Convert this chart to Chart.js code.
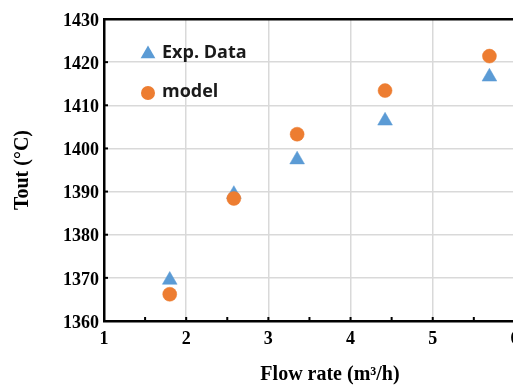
<!DOCTYPE html>
<html>
<head>
<meta charset="utf-8">
<script src="https://cdn.jsdelivr.net/npm/chart.js@4/dist/chart.umd.min.js"></script>
<style>
  html, body { margin: 0; padding: 0; background: #fff; overflow: hidden; }
  #wrap { position: absolute; left: 0; top: 0; width: 565px; height: 385px; }
</style>
</head>
<body>
<div id="wrap"><canvas id="chart" width="565" height="385"></canvas></div>
<script>
// flow rate (m3/h) and outlet temperature (°C)
const flowRate = [1.8, 2.58, 3.35, 4.42, 5.69];
const toutExp = [1369.5, 1389.4, 1397.4, 1406.4, 1416.6];
const toutModel = [1366.2, 1388.4, 1403.3, 1413.4, 1421.4];
const xTickLabels = ["1", "2", "3", "4", "5", "6"];
const yTickLabels = ["1360", "1370", "1380", "1390", "1400", "1410", "1420", "1430"];

const BLUE = "#5B9BD5";
const ORANGE = "#ED7D31";
const tickFont = { family: "'Liberation Serif', 'Times New Roman', serif", size: 18, weight: "bold" };
const titleFont = { family: "'Liberation Serif', 'Times New Roman', serif", size: 20, weight: "bold", lineHeight: 1.0 };

function toPoints(xs, ys) {
    return xs.map((x, i) => ({ x: x, y: ys[i] }));
}

// small inward tick marks + legend drawn inside the plot
const innerTicks = {
    id: "innerTicks",
    afterDraw(chart) {
        const ctx = chart.ctx;
        const area = chart.chartArea;
        const xs = chart.scales.x;
        const ys = chart.scales.y;
        ctx.save();
        ctx.strokeStyle = "#000";
        ctx.lineWidth = 2;
        xs.ticks.forEach(t => {
            const px = xs.getPixelForValue(t.value);
            if (px <= area.left + 2) return;
            ctx.beginPath();
            ctx.moveTo(px, area.bottom);
            ctx.lineTo(px, area.bottom - 4);
            ctx.stroke();
        });
        ys.ticks.forEach(t => {
            const py = ys.getPixelForValue(t.value);
            if (py >= area.bottom - 2) return;
            ctx.beginPath();
            ctx.moveTo(area.left, py);
            ctx.lineTo(area.left + 4, py);
            ctx.stroke();
        });

        // legend
        const lx = area.left + 44;
        ctx.fillStyle = BLUE;
        const r = 8.5, cy1 = 54, cy2 = 93;
        ctx.beginPath();
        for (let k = 0; k < 3; k++) {
            const a = k * 2 * Math.PI / 3;
            const px = lx + Math.sin(a) * r, py = cy1 - Math.cos(a) * r;
            k === 0 ? ctx.moveTo(px, py) : ctx.lineTo(px, py);
        }
        ctx.closePath();
        ctx.fill();
        ctx.fillStyle = ORANGE;
        ctx.beginPath();
        ctx.arc(lx, cy2, 7, 0, Math.PI * 2);
        ctx.fill();

        ctx.fillStyle = "#1a1a1a";
        ctx.font = "bold 18px 'Open Sans', sans-serif";
        ctx.textBaseline = "middle";
        ctx.textAlign = "left";
        ctx.fillText("Exp. Data", lx + 14, cy1 - 1);
        ctx.fillText("model", lx + 14, cy2 - 1);
        ctx.restore();
    }
};

new Chart(document.getElementById("chart"), {
    type: "scatter",
    data: {
        datasets: [
            {
                label: "model",
                data: toPoints(flowRate, toutModel),
                pointStyle: "circle",
                pointRadius: 7,
                backgroundColor: ORANGE,
                borderColor: ORANGE,
                borderWidth: 0.5
            },
            {
                label: "Exp. Data",
                data: toPoints(flowRate, toutExp),
                pointStyle: "triangle",
                pointRadius: 8.5,
                backgroundColor: BLUE,
                borderColor: BLUE,
                borderWidth: 0.5
            }
        ]
    },
    options: {
        responsive: false,
        devicePixelRatio: 1,
        animation: false,
        layout: { padding: 0 },
        plugins: {
            legend: { display: false },
            tooltip: { enabled: false }
        },
        scales: {
            x: {
                type: "linear",
                position: "bottom",
                min: 1,
                max: 6.5,
                afterFit(scale) { scale.height = 64; },
                afterBuildTicks(scale) {
                    const t = [];
                    for (let v = 1; v <= 6.5; v += 0.5) t.push({ value: v });
                    scale.ticks = t;
                },
                ticks: {
                    autoSkip: false,
                    maxRotation: 0,
                    padding: 8,
                    color: "#000",
                    font: tickFont,
                    callback: v => (Number.isInteger(v) && xTickLabels.includes(String(v))) ? String(v) : ""
                },
                grid: {
                    drawTicks: false,
                    lineWidth: 1.5,
                    color: c => (c.tick && Number.isInteger(c.tick.value)) ? "#d9d9d9" : "rgba(0,0,0,0)"
                },
                border: { display: true, color: "#000", width: 2.5 },
                title: {
                    display: true,
                    text: "Flow rate (m³/h)",
                    color: "#000",
                    font: titleFont,
                    padding: { top: 0, bottom: 0 }
                }
            },
            xTop: {
                type: "linear",
                position: "top",
                min: 1,
                max: 6.5,
                afterFit(scale) { scale.height = 19; },
                ticks: { display: false },
                grid: { display: true, drawOnChartArea: false, drawTicks: false },
                border: { display: true, color: "#000", width: 2.5 }
            },
            y: {
                type: "linear",
                min: 1360,
                max: 1430,
                afterFit(scale) { scale.width = 104; },
                afterBuildTicks(scale) {
                    scale.ticks = yTickLabels.map(s => ({ value: Number(s) }));
                },
                ticks: {
                    padding: 5,
                    labelOffset: 2,
                    color: "#000",
                    font: tickFont,
                    callback: v => String(v)
                },
                grid: { drawTicks: false, lineWidth: 1.5, color: "#d9d9d9" },
                border: { display: true, color: "#000", width: 2.5 },
                title: {
                    display: true,
                    text: "Tout (°C)",
                    color: "#000",
                    font: { family: titleFont.family, size: 20, weight: "bold", lineHeight: 1.2 },
                    padding: { top: 11, bottom: 0 }
                }
            }
        }
    },
    plugins: [innerTicks]
});
</script>
</body>
</html>
